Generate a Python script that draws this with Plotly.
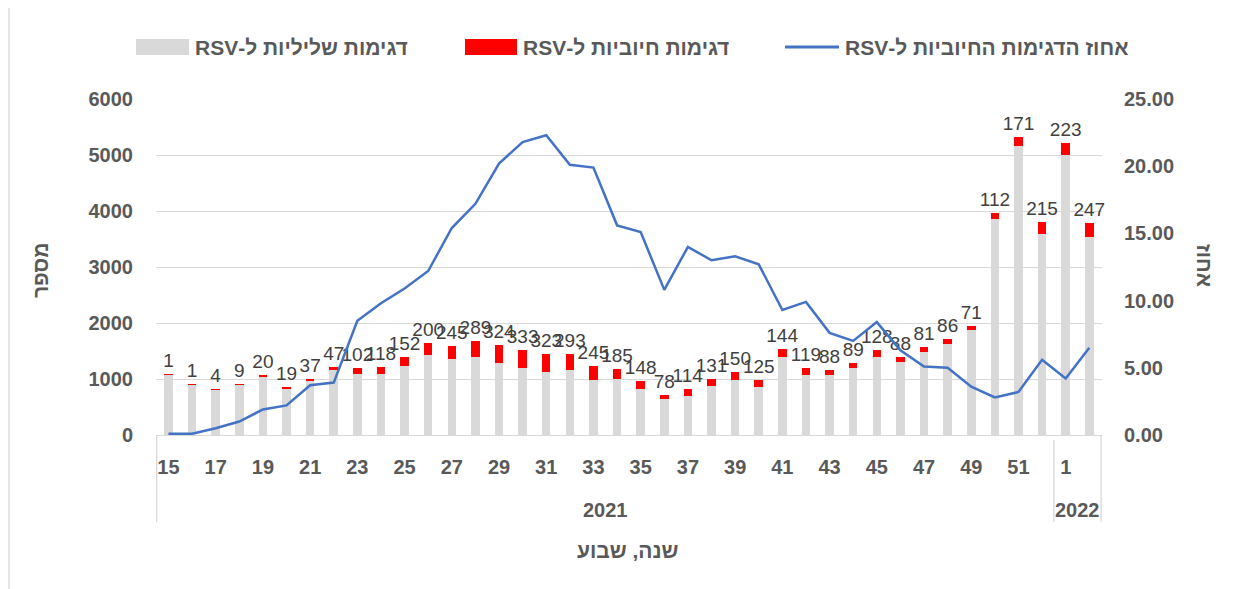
import plotly.graph_objects as go

weeks = ["15", "16", "17", "18", "19", "20", "21", "22", "23", "24", "25", "26", "27", "28",
         "29", "30", "31", "32", "33", "34", "35", "36", "37", "38", "39", "40", "41", "42",
         "43", "44", "45", "46", "47", "48", "49", "50", "51", "52", "1", "2"]
years = ["2021", "2022"]
positive = [1, 1, 4, 9, 20, 19, 37, 47, 102, 118, 152, 200, 245, 289, 324, 333, 323, 293,
            245, 185, 148, 78, 114, 131, 150, 125, 144, 119, 88, 89, 128, 88, 81, 86, 71,
            112, 171, 215, 223, 247]
negative = [1088, 904, 817, 896, 1051, 832, 957, 1167, 1088, 1090, 1241, 1437, 1350, 1390,
            1283, 1191, 1123, 1153, 981, 994, 822, 642, 702, 875, 981, 863, 1392, 1071, 1073,
            1191, 1390, 1311, 1484, 1628, 1875, 3858, 5156, 3595, 4997, 3533]
percent = [0.1, 0.1, 0.5, 1.0, 1.9, 2.2, 3.7, 3.9, 8.5, 9.8, 10.9, 12.2, 15.4, 17.2, 20.2,
           21.8, 22.3, 20.1, 19.9, 15.6, 15.1, 10.8, 14.0, 13.0, 13.3, 12.7, 9.3, 9.9, 7.6,
           7.0, 8.4, 6.3, 5.1, 5.0, 3.6, 2.8, 3.2, 5.6, 4.2, 6.5]
tick_weeks = weeks[::2]

name_neg = "\u202bדגימות שליליות ל-RSV\u202c"
name_pos = "\u202bדגימות חיוביות ל-RSV\u202c"
name_pct = "\u202bאחוז הדגימות החיוביות ל-RSV\u202c"
x_title = "\u202bשנה, שבוע\u202c"
y_title = "מספר"
y2_title = "אחוז"

GREY = "#D9D9D9"
RED = "#FF0000"
BLUE = "#4472C4"
TXT = "#595959"
FONT = "Liberation Sans"

fig = go.Figure()
fig.add_trace(go.Bar(x=weeks, y=negative, name=name_neg, marker_color=GREY,
                     marker_line_width=0, showlegend=False))
fig.add_trace(go.Bar(x=weeks, y=positive, name=name_pos, marker_color=RED,
                     marker_line_width=0, showlegend=False,
                     text=[str(v) for v in positive], textposition="outside",
                     constraintext="none", cliponaxis=False,
                     textfont=dict(family=FONT, size=19, color="#404040")))
fig.add_trace(go.Scatter(x=weeks, y=percent, name=name_pct, mode="lines",
                         line=dict(color=BLUE, width=2.5), yaxis="y2", showlegend=False))

# page offset of the figure div (body margin)
OFF = 8
L, R, T, B = 156, 1102, 99, 435
W, H = R - L, B - T


def px(xp):
    return (xp - L) / W


def py(yp):
    return (B - yp) / H


shapes = []
annotations = []


def note(x, y, text, font, xref="paper", xanchor="center", angle=0):
    annotations.append(dict(x=x, y=y, xref=xref, yref="paper", text=text, showarrow=False,
                            xanchor=xanchor, yanchor="middle", textangle=angle, font=font))


axis_font = dict(family=FONT, size=20, color=TXT, weight="bold")
title_font = dict(family=FONT, size=21, color=TXT, weight="bold")

# category separators
div_year = weeks.index("1") - 0.5
for xv, top in [(-0.5, 0), (div_year, py(440)), (len(weeks) - 0.5, 0)]:
    shapes.append(dict(type="line", xref="x", yref="paper", x0=xv, x1=xv,
                       y0=py(522), y1=top, line=dict(color=GREY, width=1.3)))
# year labels
note((-0.5 + div_year) / 2, py(510), years[0], axis_font, xref="x")
note((div_year + len(weeks) - 0.5) / 2, py(510), years[1], axis_font, xref="x")
# axis titles
note(px(628), py(550), x_title, title_font)
note(px(40), py(270), y_title, title_font, angle=-90)
note(px(1205), py(265), y2_title, title_font, angle=90)

# manual legend
ly = 47
leg_font = dict(family=FONT, size=21, color=TXT, weight="bold")
shapes.append(dict(type="rect", xref="paper", yref="paper", x0=px(136), x1=px(189),
                   y0=py(ly + 8), y1=py(ly - 8), fillcolor=GREY, line=dict(width=0)))
note(px(193), py(ly), name_neg, leg_font, xanchor="left")
shapes.append(dict(type="rect", xref="paper", yref="paper", x0=px(465), x1=px(517),
                   y0=py(ly + 8), y1=py(ly - 8), fillcolor=RED, line=dict(width=0)))
note(px(521), py(ly), name_pos, leg_font, xanchor="left")
shapes.append(dict(type="line", xref="paper", yref="paper", x0=px(785), x1=px(839),
                   y0=py(ly), y1=py(ly), line=dict(color=BLUE, width=3)))
note(px(843), py(ly), name_pct, leg_font, xanchor="left")

# chart border on the left
shapes.append(dict(type="line", xref="paper", yref="paper", x0=px(9), x1=px(9),
                   y0=py(589), y1=py(0), line=dict(color=GREY, width=1.3)))

fig.update_layout(
    width=1249 - OFF, height=589 - OFF,
    margin=dict(l=L - OFF, r=1249 - R, t=T - OFF, b=589 - B, pad=0),
    paper_bgcolor="white", plot_bgcolor="white",
    barmode="stack", bargap=0.64,
    showlegend=False,
    shapes=shapes, annotations=annotations,
    xaxis=dict(type="category", tickmode="array", tickvals=tick_weeks, ticktext=tick_weeks,
               showline=True, linecolor=GREY, linewidth=1.3, showgrid=False,
               ticks="", ticklabelstandoff=14, tickfont=axis_font),
    yaxis=dict(range=[0, 6000], dtick=1000, showgrid=True, gridcolor=GREY, gridwidth=1.3,
               zeroline=False, showline=False, ticks="", ticklabelstandoff=22,
               tickfont=axis_font),
    yaxis2=dict(range=[0, 25], dtick=5, tickformat=".2f", overlaying="y", side="right",
                showgrid=False, zeroline=False, showline=False, ticks="",
                ticklabelstandoff=21, tickfont=axis_font),
)

fig.write_html("out.html")
